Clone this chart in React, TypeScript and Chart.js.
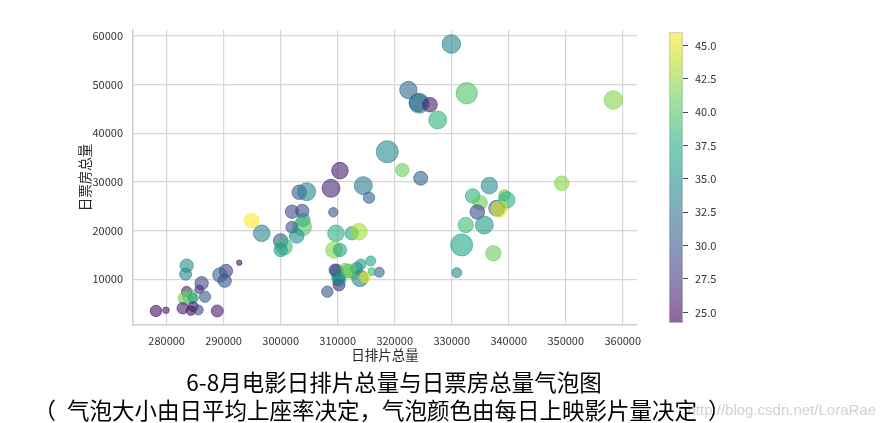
import React, { useEffect, useRef } from "react";
import { Chart, registerables } from "chart.js";

Chart.register(...registerables);

// x: 日排片总量
const dailyScreenings = [
  322390, 324300, 324100, 326190, 327540, 332630, 318700, 321330, 329930, 358350,
  324560, 336600, 349300, 333680, 334970, 339230, 339650, 334490, 337900, 338300,
  332460, 335720, 331750, 337300, 330880,
  310400, 308830, 314490, 315490, 303260, 304560, 309230, 301980, 303790, 303970,
  303790, 301980, 302810, 296670, 300000, 300580, 300000, 309700, 312460, 313740,
  309350, 310400, 294910,
  309820, 314040, 315790, 317300, 316000, 311280, 312740, 313330, 313910, 314790,
  310110, 310110, 308180, 310230, 309530, 310400, 311860,
  283510, 283330, 292740, 290400, 289350, 290180, 286140, 285720, 283510, 286720,
  284090, 283210, 284670, 284670, 278120, 279880, 282810, 284260, 285540, 288880,
];

// y: 日票房总量
const dailyBoxOffice = [
  48900, 46170, 46300, 45880, 42740, 48220, 36220, 32460, 58360, 46850,
  30760, 29240, 29730, 27120, 25740, 27260, 26300, 23830, 24590, 24390,
  21160, 21160, 17050, 15340, 11360,
  32320, 28700, 29240, 26770, 27880, 28000, 23770, 23890, 24040, 22190,
  20810, 20690, 18900, 19450, 17870, 16700, 16020, 19450, 19450, 19780,
  16020, 16020, 22040,
  11710, 13080, 13760, 11440, 11560, 11910, 11440, 12260, 10200, 10410,
  10540, 9860, 7450, 8830, 11910, 10000, 11710,
  12800, 11030, 13410, 11710, 10880, 9710, 9180, 7950, 7450, 6420,
  6420, 6100, 6100, 4370, 3490, 3630, 4040, 3550, 3690, 3490,
];

// bubble size: 日平均上座率 (%)
const avgOccupancy = [
  17.4, 20.0, 18.0, 14.6, 18.0, 21.4, 22.0, 13.4, 18.6, 18.6,
  14.0, 16.6, 14.6, 14.6, 14.6, 11.4, 16.6, 14.6, 16.0, 16.0,
  15.4, 18.0, 22.0, 15.4, 10.0,
  16.6, 18.0, 18.0, 11.4, 14.6, 18.0, 9.4, 13.4, 13.4, 13.4,
  18.6, 12.0, 14.6, 16.6, 14.6, 16.6, 13.4, 16.6, 13.4, 16.6,
  16.6, 13.4, 14.6,
  13.4, 10.6, 10.0, 10.0, 8.0, 13.4, 13.4, 12.0, 16.6, 10.6,
  13.4, 12.0, 11.4, 12.0, 12.0, 12.0, 14.0,
  13.4, 12.0, 5.4, 13.4, 14.6, 13.4, 13.4, 8.6, 10.6, 11.4,
  14.6, 13.4, 10.0, 10.0, 11.4, 6.6, 11.4, 9.4, 10.0, 12.0,
];

// bubble colour: 每日上映影片量
const dailyMovieCount = [
  31.5, 34, 32, 26, 38, 40, 34.5, 41, 34, 42,
  31, 35, 42, 38, 41, 41, 38, 29, 31, 45,
  39, 36, 37, 41, 34,
  26, 26.5, 33, 31, 30, 34, 30, 29, 29, 35,
  40, 30, 35, 34, 30, 39, 36, 38, 37, 43,
  42, 37, 46,
  30, 36, 37, 31, 39, 42, 43, 36, 34, 45,
  37, 35, 30, 27, 29, 35, 40,
  35, 34, 25, 28, 31, 30, 29, 27, 26, 30,
  40, 41, 37, 26, 25, 26, 26, 25, 29, 26,
];

const xTickValues = [280000, 290000, 300000, 310000, 320000, 330000, 340000, 350000, 360000];
const yTickValues = [10000, 20000, 30000, 40000, 50000, 60000];
const colorTickValues = [25, 27.5, 30, 32.5, 35, 37.5, 40, 42.5, 45];
const COLOR_MIN = 24.2;
const COLOR_MAX = 46.0;
const X_MIN = 274100;
const X_MAX = 362500;
const Y_MIN = 600;
const Y_MAX = 61230;

const VIRIDIS = [
  [68, 1, 84], [72, 36, 117], [65, 68, 135], [53, 95, 141], [42, 120, 142],
  [33, 145, 140], [34, 168, 132], [68, 191, 112], [122, 209, 81], [189, 223, 38], [253, 231, 37],
];
const ALPHA = 0.6;

function viridis(t: number, a: number) {
  const tt = Math.max(0, Math.min(1, t)) * (VIRIDIS.length - 1);
  const i = Math.min(VIRIDIS.length - 2, Math.floor(tt));
  const f = tt - i;
  const c = VIRIDIS[i].map((v, k) => Math.round(v + (VIRIDIS[i + 1][k] - v) * f));
  return `rgba(${c[0]},${c[1]},${c[2]},${a})`;
}

const FONT = "'Noto Sans CJK SC', 'Liberation Sans', sans-serif";
const TICK_COLOR = "#333333";
const GRID_COLOR = "#d6d6d6";

const titleStyle: any = {
  position: "absolute",
  transform: "translateX(-50%)",
  fontFamily: FONT,
  fontSize: 22.5,
  lineHeight: "28px",
  color: "#000",
  whiteSpace: "nowrap",
};

export default function App() {
  const mainRef = useRef<HTMLCanvasElement>(null);
  const barRef = useRef<HTMLCanvasElement>(null);

  useEffect(() => {
    const points = dailyScreenings.map((x, i) => ({
      x,
      y: dailyBoxOffice[i],
      r: avgOccupancy[i] / 2,
    }));
    const colors = dailyMovieCount.map((c) =>
      viridis((c - COLOR_MIN) / (COLOR_MAX - COLOR_MIN), ALPHA)
    );

    const main = new Chart(mainRef.current!, {
      type: "bubble",
      data: {
        datasets: [
          {
            data: points,
            backgroundColor: colors,
            borderColor: colors,
            borderWidth: 1,
          },
        ],
      },
      options: {
        animation: false,
        responsive: false,
        devicePixelRatio: 1,
        events: [],
        layout: { padding: { left: 0, top: 30, right: 245, bottom: 0 } },
        plugins: { legend: { display: false }, tooltip: { enabled: false } },
        scales: {
          x: {
            type: "linear",
            min: X_MIN,
            max: X_MAX,
            afterBuildTicks: (s: any) => {
              s.ticks = xTickValues.map((v) => ({ value: v }));
            },
            afterFit: (s: any) => {
              s.height = 98;
            },
            ticks: {
              callback: (v: any) => String(v),
              font: { family: FONT, size: 11 },
              color: TICK_COLOR,
              padding: 9,
              maxRotation: 0,
              autoSkip: false,
            },
            grid: { color: GRID_COLOR, lineWidth: 1.2, drawTicks: false },
            border: { display: true, color: "#cccccc", width: 1.5 },
            title: {
              display: true,
              text: "日排片总量",
              font: { family: FONT, size: 13.5 },
              color: "#262626",
              padding: { top: 0, bottom: 60 },
            },
          },
          y: {
            type: "linear",
            min: Y_MIN,
            max: Y_MAX,
            afterBuildTicks: (s: any) => {
              s.ticks = yTickValues.map((v) => ({ value: v }));
            },
            afterFit: (s: any) => {
              s.width = 133;
            },
            ticks: {
              callback: (v: any) => String(v),
              font: { family: FONT, size: 11 },
              color: TICK_COLOR,
              padding: 10,
              autoSkip: false,
            },
            grid: { color: GRID_COLOR, lineWidth: 1.2, drawTicks: false },
            border: { display: true, color: "#cccccc", width: 1.5 },
            title: {
              display: true,
              text: "日票房总量",
              font: { family: FONT, size: 13.5 },
              color: "#262626",
              padding: { top: 77, bottom: 0 },
            },
          },
        },
      },
    } as any);

    const bar = new Chart(barRef.current!, {
      type: "bar",
      data: {
        labels: [""],
        datasets: [
          {
            data: [[COLOR_MIN, COLOR_MAX]],
            backgroundColor: (ctx: any) => {
              const chart = ctx.chart;
              if (!chart.chartArea) return "rgba(0,0,0,0)";
              const ys = chart.scales.y;
              const g = chart.ctx.createLinearGradient(
                0,
                ys.getPixelForValue(COLOR_MIN),
                0,
                ys.getPixelForValue(COLOR_MAX)
              );
              for (let i = 0; i <= 20; i++) {
                g.addColorStop(i / 20, viridis(i / 20, ALPHA));
              }
              return g;
            },
            borderColor: "#d0d0d0",
            borderWidth: 1,
            borderSkipped: false,
            barPercentage: 1,
            categoryPercentage: 1,
          },
        ],
      },
      options: {
        animation: false,
        responsive: false,
        devicePixelRatio: 1,
        events: [],
        layout: { padding: { left: 669, top: 32, right: 139, bottom: 100 } },
        plugins: { legend: { display: false }, tooltip: { enabled: false } },
        scales: {
          x: { display: false },
          y: {
            position: "right",
            min: COLOR_MIN,
            max: COLOR_MAX,
            afterBuildTicks: (s: any) => {
              s.ticks = colorTickValues.map((v) => ({ value: v }));
            },
            afterFit: (s: any) => {
              s.width = 60;
            },
            ticks: {
              callback: (v: any) => Number(v).toFixed(1),
              font: { family: FONT, size: 11 },
              color: TICK_COLOR,
              padding: 7,
              autoSkip: false,
            },
            grid: {
              drawOnChartArea: false,
              drawTicks: true,
              tickLength: 5,
              tickColor: "#444444",
              tickWidth: 1,
            },
            border: { display: false },
          },
        },
      },
    } as any);

    return () => {
      main.destroy();
      bar.destroy();
    };
  }, []);

  return (
    <div
      style={{
        position: "absolute",
        left: 0,
        top: 0,
        width: 882,
        height: 423,
        background: "#ffffff",
        overflow: "hidden",
      }}
    >
      <canvas ref={mainRef} width={882} height={423} style={{ position: "absolute", left: 0, top: 0 }} />
      <canvas ref={barRef} width={882} height={423} style={{ position: "absolute", left: 0, top: 0 }} />
      <div
        style={{
          position: "absolute",
          right: 6,
          top: 400,
          fontFamily: "'Liberation Sans', sans-serif",
          fontSize: 15,
          color: "#d2d2d2",
          whiteSpace: "nowrap",
          lineHeight: "20px",
        }}
      >
        http://blog.csdn.net/LoraRae
      </div>
      <div style={{ ...titleStyle, left: 394, top: 367 }}>
        6-8月电影日排片总量与日票房总量气泡图
      </div>
      <div style={{ ...titleStyle, left: 382, top: 395 }}>
        <span style={{ marginRight: 11 }}>（</span>气泡大小由日平均上座率决定，气泡颜色由每日上映影片量决定<span style={{ marginLeft: 11 }}>）</span>
      </div>
    </div>
  );
}
